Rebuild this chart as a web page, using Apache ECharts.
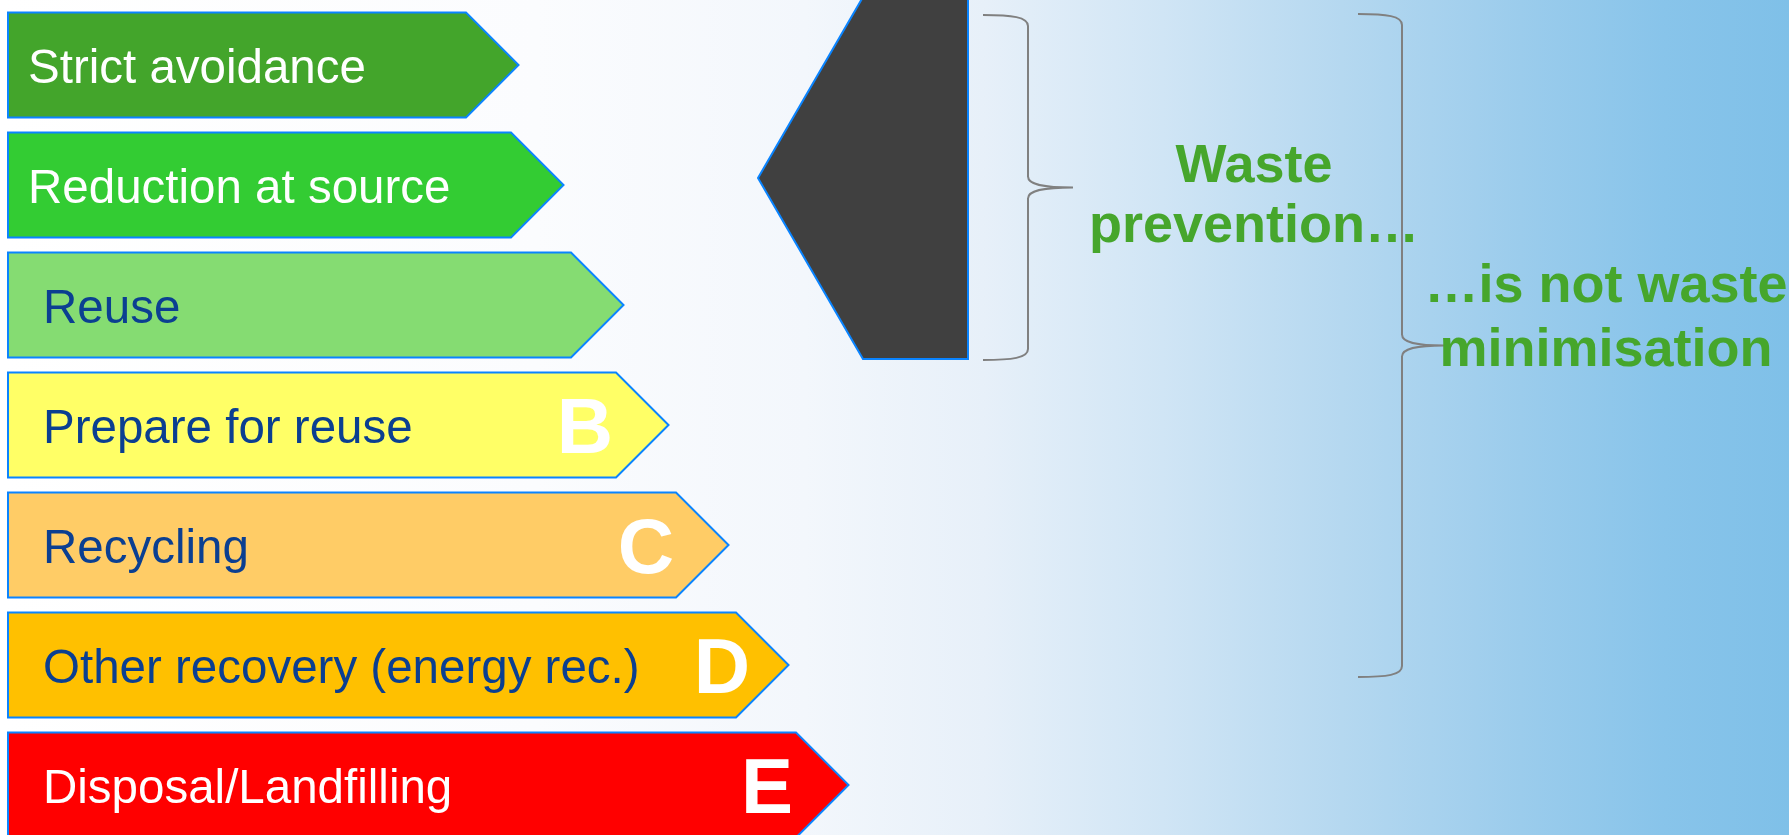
<!DOCTYPE html>
<html>
<head>
<meta charset="utf-8">
<script src="https://cdn.jsdelivr.net/npm/echarts@6/dist/echarts.min.js"></script>
<style>
html,body{margin:0;padding:0;background:#fff;}
#c{width:1789px;height:835px;}
</style>
</head>
<body>
<div id="c"></div>
<script>
// ---- data ----
const categories = ['Strict avoidance', 'Reduction at source', 'Reuse', 'Prepare for reuse', 'Recycling', 'Other recovery (energy rec.)', 'Disposal/Landfilling'];
const arrowLengths = [458, 503, 563, 608, 668, 728, 788];
const grades = ['', '', '', 'B', 'C', 'D', 'E'];
const annotationTexts = ['Waste\nprevention…', '…is not waste\nminimisation'];

// ---- styles ----
const fillColors = ['#43a52b', '#33cc33', '#85dc72', '#ffff66', '#ffcc66', '#ffc000', '#ff0000'];
const textColors = ['#ffffff', '#ffffff', '#0b3f91', '#0b3f91', '#0b3f91', '#0b3f91', '#ffffff'];
const labelPads = [20, 20, 35, 35, 35, 35, 35];
const gradeShifts = [0, 0, 0, -31, -30, -14, -29];
const BORDER = '#0a84ff';
const GREEN = '#46a62c';
const BRACE = '#808080';
const FONT = "'Liberation Sans', Arial, sans-serif";
const ROW_PX = 120;      // pixel pitch of one row
const GRID_TOP = 5;
const GRID_H = 830;

// ---- layout of the annotation overlay (pixel-like value axes) ----
const LAYOUT = {
  pentagon: [[863, -3], [968, -3], [968, 359], [863, 359], [758, 178]],
  braces: [
    { xEnd: 983, xMid: 1028, xTip: 1073, top: 15, bottom: 360 },
    { xEnd: 1358, xMid: 1402, xTip: 1444, top: 14, bottom: 677 }
  ],
  texts: [
    { x: 1254, y: 197, lh: 60 },
    { x: 1606, y: 319, lh: 64 }
  ]
};

const chart = echarts.init(document.getElementById('c'));

const seriesData = arrowLengths.map((v, i) => [v, i]);

function bracePath(api, b) {
  const P = (x, y) => api.coord([x, y]);
  const a = P(b.xEnd, b.top), m = P(b.xMid, b.top), tipPt = P(b.xTip, (b.top + b.bottom) / 2);
  const z = P(b.xEnd, b.bottom);
  const xm = m[0], yc = tipPt[1], xt = tipPt[0], xe = a[0];
  const y0 = a[1], y1 = z[1];
  const r = 11;
  return 'M' + xe + ',' + y0 +
    ' C' + (xe + 29) + ',' + y0 + ' ' + xm + ',' + (y0 + 2) + ' ' + xm + ',' + (y0 + r) +
    ' L' + xm + ',' + (yc - r) +
    ' C' + xm + ',' + (yc - 3) + ' ' + (xm + 14) + ',' + yc + ' ' + xt + ',' + yc +
    ' C' + (xm + 14) + ',' + yc + ' ' + xm + ',' + (yc + 3) + ' ' + xm + ',' + (yc + r) +
    ' L' + xm + ',' + (y1 - r) +
    ' C' + xm + ',' + (y1 - 2) + ' ' + (xe + 29) + ',' + y1 + ' ' + xe + ',' + y1;
}

const option = {
  animation: false,
  backgroundColor: 'transparent',
  grid: [
    { left: 8, top: GRID_TOP, width: 1000, height: GRID_H },
    { left: 0, top: 0, width: 1789, height: 835 }
  ],
  xAxis: [
    { type: 'value', min: 0, max: 1000, show: false, gridIndex: 0 },
    { type: 'value', min: 0, max: 1789, show: false, gridIndex: 1 }
  ],
  yAxis: [
    { type: 'value', min: -0.5, max: -0.5 + GRID_H / ROW_PX, inverse: true, show: false, gridIndex: 0 },
    { type: 'value', min: 0, max: 835, inverse: true, show: false, gridIndex: 1 }
  ],
  graphic: [
    {
      type: 'rect', z: -100, silent: true,
      shape: { x: 0, y: 0, width: 1789, height: 835 },
      style: {
        fill: {
          type: 'linear', x: 0, y: 0, x2: 1, y2: 0,
          colorStops: [
            { offset: 0, color: '#ffffff' },
            { offset: 0.3, color: '#fbfcfe' },
            { offset: 0.45, color: '#f3f7fc' },
            { offset: 0.55, color: '#e7f0f9' },
            { offset: 0.65, color: '#d0e5f5' },
            { offset: 0.75, color: '#b5d8f0' },
            { offset: 0.85, color: '#9bccec' },
            { offset: 0.93, color: '#88c4ea' },
            { offset: 1, color: '#7fc0e8' }
          ]
        }
      }
    }
  ],
  series: [
    {
      type: 'custom',
      coordinateSystem: 'cartesian2d',
      xAxisIndex: 0, yAxisIndex: 0,
      data: seriesData,
      z: 5,
      clip: false,
      renderItem: function (params, api) {
        const i = api.value(1);
        const start = api.coord([0, i]);
        const end = api.coord([api.value(0), i]);
        const band = Math.abs(api.size([0, 1])[1]);
        const h = band * 0.875;
        const tip = h / 2;
        const x0 = start[0], yc = start[1], x1 = end[0];
        const children = [
          {
            type: 'polygon',
            shape: { points: [[x0, yc - h / 2], [x1, yc - h / 2], [x1 + tip, yc], [x1, yc + h / 2], [x0, yc + h / 2]] },
            style: { fill: fillColors[i], stroke: BORDER, lineWidth: 2 }
          },
          {
            type: 'text',
            style: {
              text: categories[i], x: x0 + labelPads[i], y: yc + 5,
              align: 'left', verticalAlign: 'middle',
              font: '47.5px ' + FONT, fill: textColors[i]
            }
          }
        ];
        if (grades[i]) {
          children.push({
            type: 'text',
            style: {
              text: grades[i], x: x1 + gradeShifts[i], y: yc + 6,
              align: 'center', verticalAlign: 'middle',
              font: 'bold 78px ' + FONT, fill: '#ffffff'
            }
          });
        }
        return { type: 'group', children: children };
      }
    },
    {
      type: 'custom',
      coordinateSystem: 'cartesian2d',
      xAxisIndex: 1, yAxisIndex: 1,
      data: annotationTexts.map((t, i) => [i]),
      z: 6,
      clip: false,
      renderItem: function (params, api) {
        const i = params.dataIndex;
        const children = [];
        if (i === 0) {
          children.push({
            type: 'polygon',
            shape: { points: LAYOUT.pentagon.map(p => api.coord(p)) },
            style: { fill: '#404040', stroke: BORDER, lineWidth: 2 }
          });
        }
        children.push({
          type: 'path',
          shape: { pathData: bracePath(api, LAYOUT.braces[i]) },
          style: { fill: 'none', stroke: BRACE, lineWidth: 2 }
        });
        const tp = api.coord([LAYOUT.texts[i].x, LAYOUT.texts[i].y]);
        children.push({
          type: 'text',
          style: {
            text: annotationTexts[i], x: tp[0], y: tp[1],
            align: 'center', verticalAlign: 'middle',
            font: 'bold 54px ' + FONT, fill: GREEN, lineHeight: LAYOUT.texts[i].lh
          }
        });
        return { type: 'group', children: children };
      }
    }
  ]
};
chart.setOption(option);
</script>
</body>
</html>
